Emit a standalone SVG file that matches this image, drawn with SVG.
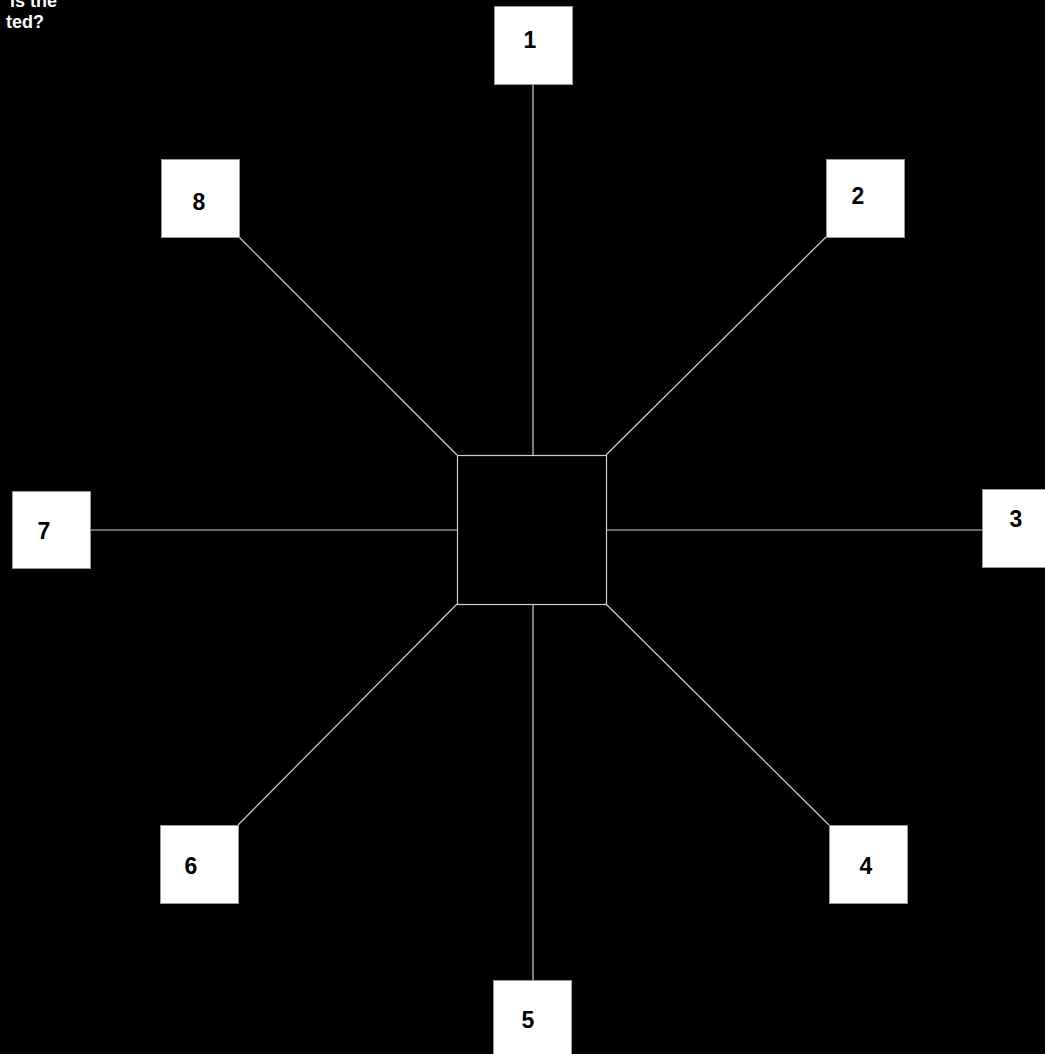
<svg xmlns="http://www.w3.org/2000/svg" width="1045" height="1054" viewBox="0 0 1045 1054">
<style>
.bg{fill:#000}
.box{fill:#fff;stroke:#999;stroke-width:1}
.lbl{font-family:"Liberation Sans",Arial,sans-serif;font-weight:bold;font-size:23px;fill:#000;text-anchor:middle;dominant-baseline:central}
.cap{font-family:"Liberation Sans",Arial,sans-serif;font-weight:bold;font-size:18px;fill:#fff;text-anchor:end}
.con line{stroke:#d0d0d0;stroke-width:1.2}
</style>
<rect class="bg" x="0" y="0" width="1045" height="1054"/>
<text class="cap" x="57" y="7">is the</text>
<text class="cap" x="44" y="28">ted?</text>
<g id="connectors" class="con">
<line x1="533" y1="84" x2="533" y2="455"/>
<line x1="826" y1="237" x2="606" y2="455"/>
<line x1="606" y1="530" x2="982" y2="530"/>
<line x1="829" y1="825" x2="606" y2="604"/>
<line x1="533" y1="604" x2="533" y2="980"/>
<line x1="238" y1="825" x2="457" y2="604"/>
<line x1="90" y1="530" x2="457" y2="530"/>
<line x1="239" y1="237" x2="457" y2="455"/>
</g>
<g id="center"><rect x="457.5" y="455.5" width="149" height="149" fill="#000" stroke="#d0d0d0" stroke-width="1.2"/></g>
<g id="n1"><rect class="box" x="494.5" y="6.5" width="78" height="78"/><text class="lbl" x="530" y="40">1</text></g>
<g id="n2"><rect class="box" x="826.5" y="159.5" width="78" height="78"/><text class="lbl" x="858" y="196">2</text></g>
<g id="n3"><rect class="box" x="982.5" y="489.5" width="78" height="78"/><text class="lbl" x="1016" y="519">3</text></g>
<g id="n4"><rect class="box" x="829.5" y="825.5" width="78" height="78"/><text class="lbl" x="866" y="866">4</text></g>
<g id="n5"><rect class="box" x="493.5" y="980.5" width="78" height="78"/><text class="lbl" x="528" y="1020">5</text></g>
<g id="n6"><rect class="box" x="160.5" y="825.5" width="78" height="78"/><text class="lbl" x="191" y="866">6</text></g>
<g id="n7"><rect class="box" x="12.5" y="491.5" width="78" height="77"/><text class="lbl" x="44" y="531">7</text></g>
<g id="n8"><rect class="box" x="161.5" y="159.5" width="78" height="78"/><text class="lbl" x="199" y="202">8</text></g>
</svg>
